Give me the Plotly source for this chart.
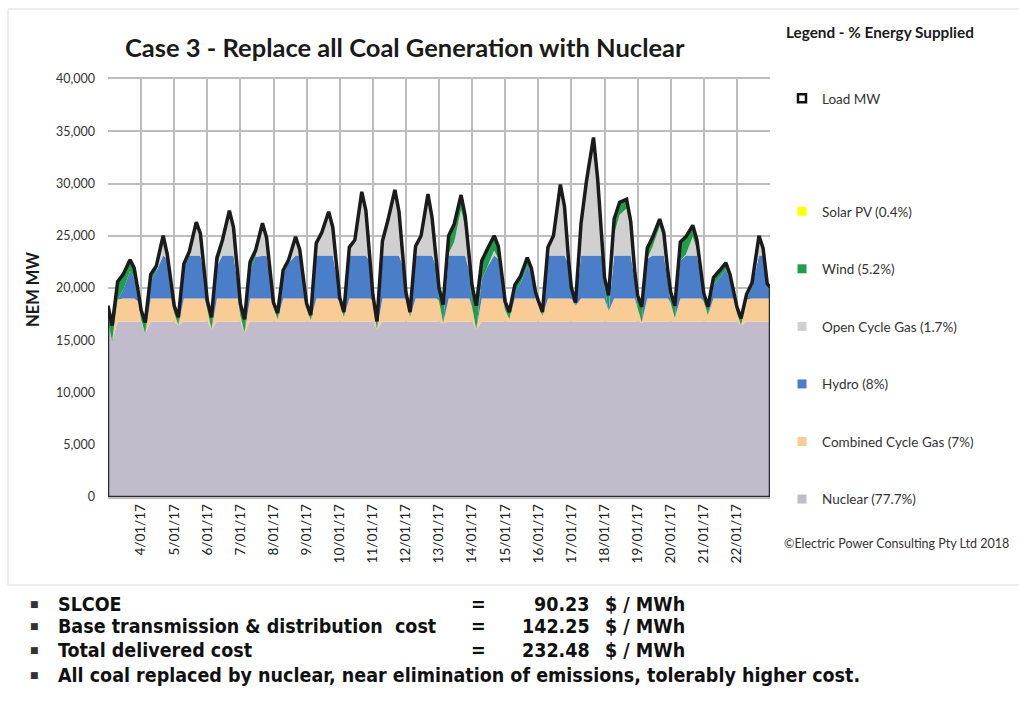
import pandas as pd
import plotly.graph_objects as go

# ---------------- data ----------------
chart_title = "Case 3 - Replace all Coal Generation with Nuclear"
legend_title = "Legend - % Energy Supplied"
y_axis_title = "NEM MW"
credit = "©Electric Power Consulting Pty Ltd 2018"

days = list(range(3, 23))            # 3/01/17 .. 22/01/17
hours = [0, 3, 7, 11, 16, 19, 22]    # sample hours within each day

load_mw = [
    18300, 16400, 20600, 21300, 22700, 21900, 19600,  # 3/01
    17900, 16700, 21300, 22100, 25000, 23200, 20200,  # 4/01
    18300, 17200, 22300, 23500, 26300, 25200, 21700,  # 5/01
    18800, 17200, 22900, 24600, 27400, 25800, 21300,  # 6/01
    18500, 17000, 22500, 23600, 26200, 24800, 21200,  # 7/01
    18600, 17600, 21700, 22700, 24900, 23700, 20700,  # 8/01
    18500, 17400, 24300, 25300, 27300, 25800, 21200,  # 9/01
    19100, 17700, 23900, 24600, 29200, 27400, 23000,  # 10/01
    19400, 16800, 24500, 26500, 29400, 27300, 22400,  # 11/01
    19600, 17700, 24000, 25000, 29000, 26700, 22400,  # 12/01
    20000, 18400, 25000, 26100, 28900, 26900, 22800,  # 13/01
    20200, 18300, 22600, 23700, 25000, 24000, 20600,  # 14/01
    18700, 17700, 20300, 21100, 22900, 21900, 19600,  # 15/01
    18800, 17700, 23900, 25000, 29900, 27800, 22600,  # 16/01
    20000, 18600, 26200, 30300, 34400, 30500, 24500,  # 17/01
    21000, 19300, 26600, 28200, 28500, 26400, 21500,  # 18/01
    19300, 18200, 23800, 24900, 26600, 25300, 21500,  # 19/01
    19600, 18300, 24400, 24900, 26000, 24600, 21800,  # 20/01
    19500, 18200, 21000, 21600, 22400, 21300, 19600,  # 21/01
    18200, 17100, 19400, 20500, 25000, 23800, 20400,  # 22/01
]
wind_mw = [
    1500, 1500, 1700, 1500, 1100, 900, 900,      # 3/01
    900, 1100, 700, 500, 400, 400, 500,          # 4/01
    700, 800, 500, 400, 300, 300, 500,           # 5/01
    800, 1200, 800, 600, 400, 500, 800,          # 6/01
    1100, 1300, 900, 600, 400, 400, 500,         # 7/01
    500, 600, 400, 300, 300, 300, 400,           # 8/01
    400, 500, 300, 300, 300, 300, 300,           # 9/01
    400, 500, 300, 300, 300, 300, 500,           # 10/01
    600, 800, 400, 300, 300, 300, 400,           # 11/01
    400, 500, 300, 300, 300, 300, 400,           # 12/01
    1200, 1800, 1700, 1700, 1400, 1200, 1200,    # 13/01
    2000, 2300, 1800, 1700, 1400, 1200, 1000,    # 14/01
    800, 700, 700, 700, 800, 600, 500,           # 15/01
    400, 400, 300, 300, 300, 300, 300,           # 16/01
    300, 300, 200, 200, 200, 200, 400,           # 17/01
    900, 1500, 1400, 1200, 900, 800, 800,        # 18/01
    1200, 1500, 1000, 900, 700, 600, 800,        # 19/01
    1000, 1200, 1800, 1700, 1100, 900, 800,      # 20/01
    800, 800, 700, 700, 600, 500, 600,           # 21/01
    600, 700, 500, 400, 300, 300, 300,           # 22/01
]
end_time = "2017-01-23 00:00"
end_load_mw = 20100
end_wind_mw = 300

# dispatch levels
nuclear_cap_mw = 16800
ccgt_cap_mw = 2200
hydro_cap_mw = 4100

x_tick_days = list(range(4, 23))
x_tick_labels = ["4/01/17", "5/01/17", "6/01/17", "7/01/17", "8/01/17", "9/01/17",
                 "10/01/17", "11/01/17", "12/01/17", "13/01/17", "14/01/17", "15/01/17",
                 "16/01/17", "17/01/17", "18/01/17", "19/01/17", "20/01/17", "21/01/17",
                 "22/01/17"]

series_names = ["Solar PV (0.4%)", "Wind (5.2%)", "Open Cycle Gas (1.7%)",
                "Hydro (8%)", "Combined Cycle Gas (7%)", "Nuclear (77.7%)"]
series_colors = ["#ffff00", "#1f9e4b", "#d0d0d0", "#4a7ec9", "#f9cb95", "#c2bbcc"]
load_name = "Load MW"

summary_labels = ["SLCOE", "Base transmission &amp; distribution  cost", "Total delivered cost"]
summary_values = ["90.23", "142.25", "232.48"]
summary_unit = "$ / MWh"
summary_note = "All coal replaced by nuclear, near elimination of emissions, tolerably higher cost."

# ---------------- build ----------------
times = [pd.Timestamp(2017, 1, d) + pd.Timedelta(hours=h) for d in days for h in hours]
times.append(pd.Timestamp(end_time))
load = load_mw + [end_load_mw]
wind = wind_mw + [end_wind_mw]

residual = [l - w for l, w in zip(load, wind)]
nuclear = [min(r, nuclear_cap_mw) for r in residual]
ccgt = [min(max(r - nuclear_cap_mw, 0), ccgt_cap_mw) for r in residual]
hydro = [min(max(r - nuclear_cap_mw - ccgt_cap_mw, 0), hydro_cap_mw) for r in residual]
ocgt = [max(r - nuclear_cap_mw - ccgt_cap_mw - hydro_cap_mw, 0) for r in residual]

col = dict(zip(series_names, series_colors))
fig = go.Figure()
for name, vals in [(series_names[5], nuclear), (series_names[4], ccgt), (series_names[3], hydro),
                   (series_names[2], ocgt), (series_names[1], wind)]:
    fig.add_trace(go.Scatter(x=times, y=vals, stackgroup="gen", mode="lines",
                             line=dict(width=0, color=col[name]), fillcolor=col[name],
                             name=name, showlegend=False, hoverinfo="skip"))

# area outline (bottom and sides)
fig.add_trace(go.Scatter(x=[times[0], times[0], times[-1], times[-1]],
                         y=[load[0], 0, 0, load[-1]], mode="lines",
                         line=dict(color="#2a2a2a", width=2.5), showlegend=False,
                         hoverinfo="skip"))
# load line
fig.add_trace(go.Scatter(x=times, y=load, mode="lines", line=dict(color="#1b1b1b", width=3.5),
                         name=load_name, showlegend=False))

# legend entries (square swatches like the original)
for name in series_names:
    fig.add_trace(go.Scatter(x=[None], y=[None], mode="markers", name=name,
                             legendgroup=name, legend="legend",
                             marker=dict(symbol="square", size=9, color=col[name])))
fig.add_trace(go.Scatter(x=[None], y=[None], mode="markers", name=load_name,
                         legend="legend2",
                         marker=dict(symbol="square", size=8, color="white",
                                     line=dict(color="#111111", width=2.5))))

L, R, T, B = 108, 770, 79, 497
W, H = 1019, 702


def fx(p):
    return (p - L) / (R - L)


def fy(p):
    return (B - p) / (B - T)


base_font = "Lato, 'Open Sans', sans-serif"
narrow = "'Liberation Sans Narrow', 'Arial Narrow', 'DejaVu Sans Condensed', sans-serif"

annotations = [
    dict(x=fx(405), y=fy(47), text="<b>" + chart_title + "</b>", showarrow=False,
         xanchor="center", yanchor="middle", font=dict(family=base_font, size=25.5, color="#1a1a1a")),
    dict(x=fx(784), y=fy(32), text="<b>" + legend_title + "</b>", showarrow=False,
         xanchor="left", yanchor="middle", font=dict(family=base_font, size=15.3, color="#1a1a1a")),
    dict(x=fx(33), y=fy(290), text="<b>" + y_axis_title + "</b>", showarrow=False, textangle=-90,
         xanchor="center", yanchor="middle", font=dict(family=base_font, size=16.5, color="#1a1a1a")),
    dict(x=fx(782), y=fy(543), text=credit, showarrow=False, xanchor="left", yanchor="middle",
         font=dict(family=base_font, size=12.5, color="#333333")),
]
line_y = [604, 626, 650, 675]
tfont = dict(family=narrow, size=19.5, color="#111111")
for i in range(4):
    annotations.append(dict(x=fx(34), y=fy(line_y[i]), text="■", showarrow=False,
                            xanchor="center", yanchor="middle",
                            font=dict(family="DejaVu Sans", size=9, color="#333333")))
for i in range(3):
    annotations.append(dict(x=fx(56), y=fy(line_y[i]), text="<b>" + summary_labels[i] + "</b>",
                            showarrow=False, xanchor="left", yanchor="middle", font=tfont))
    annotations.append(dict(x=fx(478), y=fy(line_y[i]), text="<b>=</b>", showarrow=False,
                            xanchor="center", yanchor="middle", font=tfont))
    annotations.append(dict(x=fx(592), y=fy(line_y[i]), text="<b>" + summary_values[i] + "</b>",
                            showarrow=False, xanchor="right", yanchor="middle", font=tfont))
    annotations.append(dict(x=fx(603), y=fy(line_y[i]), text="<b>" + summary_unit + "</b>",
                            showarrow=False, xanchor="left", yanchor="middle", font=tfont))
annotations.append(dict(x=fx(56), y=fy(line_y[3]), text="<b>" + summary_note + "</b>",
                        showarrow=False, xanchor="left", yanchor="middle", font=tfont))

for a in annotations:
    a["xref"] = "paper"
    a["yref"] = "paper"

grid = "#bdbdbd"
fig.update_layout(
    width=W, height=H,
    margin=dict(l=L, r=W - R, t=T, b=H - B, pad=0),
    paper_bgcolor="white", plot_bgcolor="white",
    font=dict(family=base_font, color="#333333"),
    annotations=annotations,
    shapes=[dict(type="rect", xref="paper", yref="paper", x0=fx(8), x1=fx(1030),
                 y0=fy(585), y1=fy(9), line=dict(color="#dddddd", width=1), layer="below")],
    legend=dict(x=fx(782), y=fy(196), xanchor="left", yanchor="top",
                font=dict(family=base_font, size=13.5, color="#333333"),
                tracegroupgap=37, bgcolor="rgba(0,0,0,0)", traceorder="grouped"),
    legend2=dict(x=fx(782), y=fy(83), xanchor="left", yanchor="top",
                 font=dict(family=base_font, size=13.5, color="#333333"),
                 bgcolor="rgba(0,0,0,0)"),
    xaxis=dict(type="date", range=[times[0], times[-1]],
               tickvals=[pd.Timestamp(2017, 1, d) for d in x_tick_days], ticktext=x_tick_labels,
               tickangle=-90, tickfont=dict(family=base_font, size=13.5, color="#222222"),
               showgrid=True, gridcolor=grid, gridwidth=1.6, showline=True, mirror=True,
               linecolor=grid, linewidth=1.6, ticks="", zeroline=False),
    yaxis=dict(range=[0, 40000], dtick=5000, tickformat=",", showgrid=True, gridcolor=grid,
               gridwidth=1.6, tickfont=dict(family=base_font, size=12.5, color="#333333"),
               ticks="", zeroline=False, ticklabelstandoff=12),
    showlegend=True,
)

fig.write_html("out.html", config={"displayModeBar": False},
               post_script="document.body.style.margin='0px';")
